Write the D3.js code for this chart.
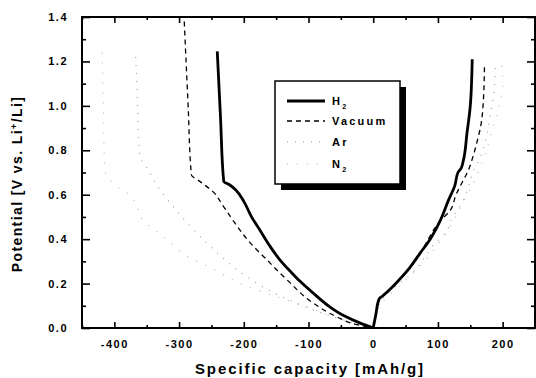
<!DOCTYPE html>
<html>
<head>
<meta charset="utf-8">
<script src="https://cdn.jsdelivr.net/npm/d3@7"></script>
<style>
  body { margin: 0; background: #fff; }
  svg { display: block; font-family: "Liberation Sans", Arial, sans-serif; }
  .tick text { font-weight: bold; font-size: 11px; letter-spacing: 1.5px; }
</style>
</head>
<body>
<svg id="chart"></svg>
<script>
// capacity [mAh/g], potential [V]
const h2Discharge = [[-241,1.245],[-236,0.95],[-231,0.66],[-222,0.645],[-212,0.62],[-200,0.57],[-188,0.5],[-175,0.44],[-160,0.37],[-144,0.306],[-128,0.255],[-113,0.21],[-90,0.15],[-67,0.095],[-45,0.055],[-20,0.022],[0,0]];
const h2Charge = [[0,0],[4,0.06],[9,0.13],[15,0.145],[28,0.18],[41,0.22],[56,0.27],[72,0.335],[88,0.4],[103,0.48],[117,0.58],[126,0.64],[131,0.7],[136,0.72],[139,0.75],[145,0.88],[150,1.0],[153,1.21]];
const vacDischarge = [[-292,1.38],[-286,1.0],[-281,0.69],[-268,0.66],[-248,0.615],[-232,0.55],[-217,0.486],[-190,0.383],[-164,0.306],[-133,0.216],[-93,0.113],[-56,0.05],[-25,0.015],[0,0]];
const vacCharge = [[0,0],[5,0.07],[10,0.135],[20,0.16],[42,0.22],[72,0.335],[103,0.48],[119,0.53],[128,0.6],[137,0.653],[147,0.71],[154,0.77],[160,0.833],[167,0.923],[170,1.013],[172,1.19]];
const arDischarge = [[-367,1.22],[-364,1.0],[-361,0.78],[-345,0.7],[-338,0.66],[-310,0.55],[-280,0.45],[-238,0.33],[-200,0.24],[-155,0.16],[-100,0.09],[-50,0.04],[0,0]];
const arCharge = [[0,0],[8,0.1],[40,0.2],[54,0.23],[80,0.32],[92,0.37],[112,0.43],[123,0.5],[130,0.53],[140,0.58],[147,0.635],[154,0.7],[165,0.765],[174,0.85],[181,0.96],[186,1.05],[189,1.19]];
const n2Discharge = [[-419,1.24],[-417,1.0],[-415,0.72],[-405,0.66],[-388,0.62],[-377,0.6],[-351,0.47],[-328,0.42],[-308,0.37],[-292,0.33],[-250,0.27],[-212,0.21],[-170,0.16],[-132,0.125],[-98,0.09],[-62,0.05],[-30,0.02],[0,0]];
const n2Charge = [[0,0],[10,0.1],[45,0.2],[85,0.32],[115,0.44],[138,0.56],[156,0.66],[170,0.76],[183,0.88],[193,0.98],[200,1.1],[198,1.2]];

const series = [
  { name: "H2", sub: "2", label: "H", parts: [h2Discharge, h2Charge], width: 2.8, dash: null, color: "#000" },
  { name: "Vacuum", label: "Vacuum", parts: [vacDischarge, vacCharge], width: 1.3, dash: "5,4", color: "#000" },
  { name: "Ar", label: "Ar", parts: [arDischarge, arCharge], width: 1.1, dash: "1,7", color: "#999" },
  { name: "N2", sub: "2", label: "N", parts: [n2Discharge, n2Charge], width: 1.1, dash: "1,9", color: "#b5b5b5" }
];

const xMajor = [-400, -300, -200, -100, 0, 100, 200];
const xMinor = [-450, -350, -250, -150, -50, 50, 150, 250];
const yMajor = [0, 0.2, 0.4, 0.6, 0.8, 1.0, 1.2, 1.4];
const yMinor = [0.1, 0.3, 0.5, 0.7, 0.9, 1.1, 1.3];

const W = 536, H = 378;
const margin = { top: 17, right: 1, bottom: 50, left: 82 };
const width = W - margin.left - margin.right;
const height = H - margin.top - margin.bottom;

const svg = d3.select("#chart").attr("width", W).attr("height", H);
const g = svg.append("g").attr("transform", `translate(${margin.left},${margin.top})`);

const x = d3.scaleLinear().domain([-450, 250]).range([0, width]);
const y = d3.scaleLinear().domain([0, 1.4]).range([height, 0]);

const line = d3.line().x((d) => x(d[0])).y((d) => y(d[1])).curve(d3.curveMonotoneY);

// curves
series.slice().reverse().forEach((s) => {
  s.parts.forEach((p) => {
    g.append("path")
      .attr("d", line(p))
      .attr("fill", "none")
      .attr("stroke", s.color)
      .attr("stroke-width", s.width)
      .attr("stroke-dasharray", s.dash)
      .attr("stroke-linejoin", "round");
  });
});

// axes
const styleAxis = (a) => a.call((sel) => sel.select(".domain").remove())
  .call((sel) => sel.selectAll(".tick line").attr("stroke-width", 1.6));

g.append("g").attr("transform", `translate(0,${height})`)
  .call(d3.axisBottom(x).tickValues(xMajor).tickSize(-6).tickPadding(12).tickFormat((d) => String(d)))
  .call(styleAxis);
g.append("g").attr("transform", `translate(0,${height})`)
  .call(d3.axisBottom(x).tickValues(xMinor).tickSize(-3).tickFormat(""))
  .call(styleAxis);
g.append("g")
  .call(d3.axisTop(x).tickValues(xMajor).tickSize(-6).tickFormat(""))
  .call(styleAxis);
g.append("g")
  .call(d3.axisTop(x).tickValues(xMinor).tickSize(-3).tickFormat(""))
  .call(styleAxis);

g.append("g")
  .call(d3.axisLeft(y).tickValues(yMajor).tickSize(-8).tickPadding(14).tickFormat(d3.format(".1f")))
  .call(styleAxis);
g.append("g")
  .call(d3.axisLeft(y).tickValues(yMinor).tickSize(-4).tickFormat(""))
  .call(styleAxis);
g.append("g").attr("transform", `translate(${width},0)`)
  .call(d3.axisRight(y).tickValues(yMajor).tickSize(-8).tickFormat(""))
  .call(styleAxis);
g.append("g").attr("transform", `translate(${width},0)`)
  .call(d3.axisRight(y).tickValues(yMinor).tickSize(-4).tickFormat(""))
  .call(styleAxis);

g.selectAll(".tick text").attr("fill", "#000");

g.append("rect")
  .attr("width", width).attr("height", height)
  .attr("fill", "none").attr("stroke", "#000").attr("stroke-width", 2);

// axis titles
svg.append("text")
  .attr("x", 310).attr("y", 374)
  .attr("text-anchor", "middle")
  .attr("font-size", 15).attr("font-weight", "bold")
  .attr("letter-spacing", 1.9)
  .text("Specific capacity [mAh/g]");

const yt = svg.append("text")
  .attr("transform", "translate(22,184) rotate(-90)")
  .attr("text-anchor", "middle")
  .attr("font-size", 14).attr("font-weight", "bold")
  .attr("letter-spacing", 1.4);
yt.append("tspan").text("Potential [V vs. Li");
yt.append("tspan").attr("dy", -5).attr("font-size", 9).text("+");
yt.append("tspan").attr("dy", 5).text("/Li]");

// legend
const lg = svg.append("g").attr("transform", "translate(275,81)");
lg.append("rect").attr("x", 6).attr("y", 6).attr("width", 125).attr("height", 103).attr("fill", "#000");
lg.append("rect").attr("width", 125).attr("height", 103).attr("fill", "#fff").attr("stroke", "#000").attr("stroke-width", 1.5);
const rowY = [20, 40, 61, 83];
series.forEach((s, i) => {
  lg.append("line")
    .attr("x1", 12).attr("x2", 50).attr("y1", rowY[i]).attr("y2", rowY[i])
    .attr("stroke", s.color).attr("stroke-width", s.width).attr("stroke-dasharray", s.dash);
  const t = lg.append("text").attr("x", 57).attr("y", rowY[i] + 4)
    .attr("font-size", 11).attr("font-weight", "bold").attr("letter-spacing", 2.2);
  t.append("tspan").text(s.label);
  if (s.sub) t.append("tspan").attr("dy", 4).attr("font-size", 7).text(s.sub);
});
</script>
</body>
</html>
